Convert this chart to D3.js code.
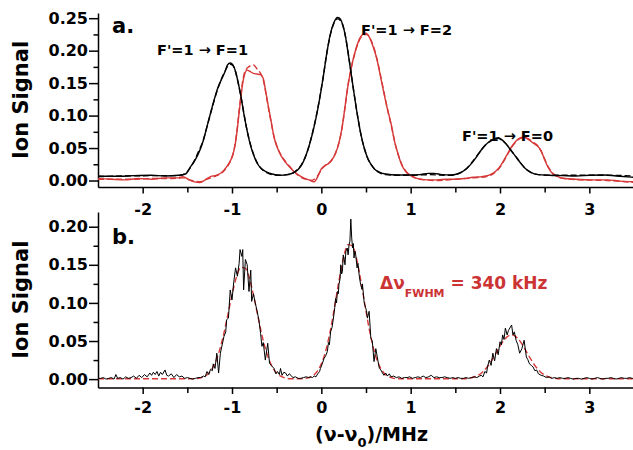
<!DOCTYPE html>
<html>
<head>
<meta charset="utf-8">
<title>Ion Signal spectra</title>
<style type="text/css">
	body {
		margin: 0;
		background: #fff;
	}

	svg {
		display: block;
	}

	.axis path, .axis line {
		stroke: #000;
		stroke-width: 1.5px;
	}

	.axis text {
		font: bold 16px "DejaVu Sans";
		fill: #000;
	}

	.lbl {
		font-family: "DejaVu Sans";
		font-weight: bold;
	}

	.curve {
		fill: none;
		stroke-width: 1.4px;
	}

	.curve.thin {
		stroke-width: 1px;
	}
</style>
<script src="https://d3js.org/d3.v7.min.js"></script>
</head>
<body>
<script type="text/javascript">
	// ---- data: [frequency offset (MHz), ion signal] ----
	var topBlack = [[-2.5,0.007],[-2.3,0.0065],[-2.1,0.0075],[-1.9,0.008],[-1.75,0.007],[-1.6,0.008],[-1.52,0.010],
		[-1.47,0.020],[-1.42,0.030],[-1.38,0.040],[-1.32,0.062],[-1.28,0.083],[-1.24,0.104],[-1.20,0.124],[-1.16,0.142],
		[-1.12,0.155],[-1.08,0.167],[-1.05,0.178],[-1.02,0.181],[-0.99,0.178],[-0.96,0.168],[-0.93,0.150],[-0.90,0.130],
		[-0.87,0.105],[-0.84,0.083],[-0.80,0.058],[-0.76,0.040],[-0.72,0.027],[-0.67,0.018],[-0.61,0.013],[-0.55,0.010],
		[-0.46,0.008],[-0.38,0.009],[-0.31,0.012],[-0.26,0.017],[-0.22,0.024],[-0.18,0.036],[-0.14,0.052],[-0.10,0.072],
		[-0.06,0.096],[-0.02,0.125],[0.02,0.158],[0.06,0.195],[0.10,0.225],[0.14,0.243],[0.18,0.251],[0.21,0.249],
		[0.24,0.240],[0.27,0.222],[0.30,0.196],[0.33,0.168],[0.36,0.140],[0.40,0.104],[0.44,0.073],[0.48,0.050],
		[0.52,0.034],[0.56,0.024],[0.60,0.017],[0.65,0.013],[0.72,0.010],[0.85,0.0085],[1.0,0.0085],[1.1,0.009],
		[1.2,0.011],[1.26,0.011],[1.35,0.009],[1.45,0.0085],[1.52,0.010],[1.57,0.013],[1.63,0.019],[1.68,0.026],
		[1.73,0.035],[1.79,0.047],[1.84,0.055],[1.90,0.062],[1.95,0.065],[1.98,0.066],[2.02,0.063],[2.07,0.056],
		[2.12,0.047],[2.17,0.038],[2.23,0.027],[2.28,0.019],[2.34,0.013],[2.43,0.009],[2.55,0.008],[2.7,0.0075],
		[2.85,0.007],[3.0,0.008],[3.17,0.0085],[3.3,0.007],[3.5,0.005]];

	var topBlackFit = [[-2.5,0.006],[-2.2,0.007],[-1.9,0.0075],[-1.6,0.0075],[-1.52,0.011],[-1.47,0.019],[-1.42,0.031],
		[-1.38,0.043],[-1.32,0.063],[-1.28,0.083],[-1.24,0.103],[-1.20,0.123],[-1.16,0.141],[-1.12,0.156],[-1.08,0.168],
		[-1.05,0.176],[-1.02,0.179],[-0.99,0.177],[-0.96,0.167],[-0.93,0.150],[-0.90,0.129],[-0.87,0.106],[-0.84,0.083],
		[-0.80,0.059],[-0.76,0.041],[-0.72,0.028],[-0.67,0.018],[-0.61,0.012],[-0.55,0.009],[-0.46,0.008],[-0.38,0.009],
		[-0.31,0.012],[-0.26,0.018],[-0.22,0.025],[-0.18,0.036],[-0.14,0.052],[-0.10,0.073],[-0.06,0.097],[-0.02,0.126],
		[0.02,0.159],[0.06,0.195],[0.10,0.224],[0.14,0.242],[0.18,0.249],[0.21,0.247],[0.24,0.239],[0.27,0.222],
		[0.30,0.197],[0.33,0.169],[0.36,0.140],[0.40,0.104],[0.44,0.073],[0.48,0.050],[0.52,0.034],[0.56,0.024],
		[0.60,0.017],[0.65,0.012],[0.72,0.009],[0.85,0.008],[1.0,0.008],[1.2,0.009],[1.45,0.008],[1.52,0.010],
		[1.57,0.013],[1.63,0.019],[1.68,0.027],[1.73,0.036],[1.79,0.047],[1.84,0.055],[1.90,0.061],[1.95,0.064],
		[1.98,0.065],[2.02,0.062],[2.07,0.056],[2.12,0.047],[2.17,0.038],[2.23,0.027],[2.28,0.019],[2.34,0.013],
		[2.43,0.009],[2.6,0.008],[2.9,0.008],[3.2,0.008],[3.5,0.007]];

	var topRed = [[-2.5,0.003],[-2.35,0.002],[-2.2,0.001],[-2.05,0.003],[-1.9,0.002],[-1.75,0.004],[-1.6,0.004],
		[-1.55,0.006],[-1.48,0.001],[-1.42,-0.002],[-1.36,-0.003],[-1.30,0.001],[-1.24,0.006],[-1.18,0.008],[-1.12,0.012],
		[-1.06,0.021],[-1.02,0.030],[-0.99,0.040],[-0.965,0.055],[-0.94,0.080],[-0.92,0.105],[-0.90,0.128],[-0.88,0.150],
		[-0.86,0.163],[-0.83,0.170],[-0.80,0.168],[-0.76,0.165],[-0.72,0.164],[-0.68,0.163],[-0.65,0.157],[-0.62,0.135],
		[-0.59,0.112],[-0.56,0.090],[-0.53,0.067],[-0.49,0.050],[-0.45,0.038],[-0.40,0.028],[-0.35,0.020],[-0.30,0.013],
		[-0.24,0.007],[-0.18,0.003],[-0.12,0.000],[-0.08,-0.002],[-0.04,0.006],[0.00,0.018],[0.04,0.023],[0.08,0.026],
		[0.12,0.032],[0.16,0.042],[0.20,0.060],[0.23,0.080],[0.26,0.108],[0.29,0.139],[0.32,0.163],[0.35,0.183],
		[0.39,0.204],[0.43,0.219],[0.47,0.226],[0.50,0.227],[0.54,0.220],[0.58,0.206],[0.62,0.188],[0.66,0.162],
		[0.70,0.135],[0.74,0.110],[0.78,0.088],[0.82,0.060],[0.86,0.040],[0.90,0.024],[0.95,0.013],[1.0,0.008],
		[1.08,0.003],[1.2,0.001],[1.3,0.001],[1.4,0.002],[1.5,0.002],[1.6,0.003],[1.7,0.005],[1.8,0.006],[1.87,0.008],
		[1.93,0.012],[1.98,0.018],[2.03,0.028],[2.08,0.040],[2.13,0.052],[2.18,0.061],[2.23,0.066],[2.27,0.067],
		[2.32,0.063],[2.37,0.058],[2.42,0.053],[2.46,0.046],[2.50,0.032],[2.54,0.020],[2.58,0.012],[2.63,0.007],
		[2.72,0.003],[2.85,0.002],[3.0,0.001],[3.2,0.001],[3.35,-0.001],[3.5,-0.002]];

	var topRedFit = [[-2.5,0.002],[-2.3,0.002],[-2.1,0.002],[-1.9,0.003],[-1.7,0.003],[-1.55,0.004],[-1.45,0.000],
		[-1.36,-0.002],[-1.28,0.002],[-1.2,0.006],[-1.12,0.011],[-1.06,0.020],[-1.02,0.029],[-0.99,0.040],[-0.965,0.056],
		[-0.94,0.082],[-0.92,0.108],[-0.90,0.132],[-0.88,0.153],[-0.86,0.166],[-0.83,0.173],[-0.79,0.177],[-0.76,0.178],
		[-0.72,0.172],[-0.68,0.165],[-0.65,0.155],[-0.62,0.134],[-0.59,0.110],[-0.56,0.088],[-0.53,0.068],[-0.49,0.050],
		[-0.45,0.039],[-0.40,0.029],[-0.35,0.021],[-0.30,0.013],[-0.24,0.006],[-0.18,0.002],[-0.12,0.000],[-0.06,0.004],
		[-0.02,0.012],[0.02,0.020],[0.06,0.025],[0.10,0.029],[0.14,0.037],[0.18,0.050],[0.21,0.065],[0.24,0.088],
		[0.27,0.118],[0.30,0.148],[0.33,0.170],[0.36,0.188],[0.40,0.207],[0.44,0.220],[0.48,0.225],[0.51,0.225],
		[0.55,0.218],[0.59,0.204],[0.63,0.183],[0.67,0.157],[0.71,0.130],[0.75,0.104],[0.79,0.080],[0.83,0.055],
		[0.87,0.036],[0.91,0.022],[0.96,0.012],[1.02,0.006],[1.1,0.002],[1.3,0.000],[1.5,0.002],[1.7,0.004],[1.85,0.006],
		[1.93,0.011],[1.98,0.017],[2.03,0.027],[2.08,0.039],[2.13,0.051],[2.18,0.060],[2.23,0.065],[2.27,0.066],
		[2.32,0.064],[2.37,0.059],[2.42,0.054],[2.46,0.045],[2.50,0.033],[2.54,0.021],[2.58,0.013],[2.63,0.007],
		[2.72,0.003],[2.9,0.001],[3.2,0.000],[3.5,-0.003]];

	var botData = [[-2.50,0.001],[-2.47,0.001],[-2.44,0.002],[-2.41,0.000],[-2.38,0.001],[-2.35,0.002],[-2.32,0.000],
		[-2.30,0.006],[-2.28,0.001],[-2.25,0.002],[-2.22,0.000],[-2.19,0.003],[-2.16,0.001],[-2.13,0.002],[-2.10,0.004],
		[-2.07,0.001],[-2.04,0.005],[-2.01,0.002],[-1.98,0.006],[-1.95,0.003],[-1.92,0.008],[-1.90,0.005],[-1.88,0.009],
		[-1.86,0.006],[-1.84,0.010],[-1.82,0.004],[-1.80,0.009],[-1.78,0.006],[-1.75,0.012],[-1.73,0.005],[-1.71,0.004],
		[-1.68,0.007],[-1.65,0.002],[-1.62,0.006],[-1.59,0.003],[-1.56,0.004],[-1.53,0.001],[-1.50,0.002],[-1.47,0.001],
		[-1.44,0.000],[-1.41,0.001],[-1.38,0.002],[-1.35,0.002],[-1.32,0.004],[-1.30,0.003],[-1.28,0.010],[-1.26,0.006],
		[-1.24,0.013],[-1.22,0.011],[-1.21,0.020],[-1.19,0.014],[-1.17,0.034],[-1.15,0.008],[-1.13,0.034],[-1.11,0.045],
		[-1.09,0.056],[-1.07,0.062],[-1.06,0.078],[-1.04,0.080],[-1.02,0.117],[-1.00,0.104],[-0.98,0.128],[-0.96,0.146],
		[-0.94,0.135],[-0.92,0.152],[-0.91,0.170],[-0.89,0.161],[-0.88,0.170],[-0.87,0.117],[-0.85,0.157],[-0.83,0.150],
		[-0.81,0.115],[-0.79,0.143],[-0.78,0.102],[-0.76,0.112],[-0.74,0.100],[-0.72,0.090],[-0.70,0.078],[-0.68,0.060],
		[-0.665,0.043],[-0.65,0.048],[-0.627,0.025],[-0.60,0.047],[-0.58,0.021],[-0.56,0.018],[-0.53,0.014],[-0.51,0.007],
		[-0.49,0.010],[-0.47,0.006],[-0.457,0.014],[-0.44,0.005],[-0.42,0.009],[-0.40,0.008],[-0.38,0.004],[-0.36,0.007],
		[-0.34,0.005],[-0.32,0.002],[-0.29,0.003],[-0.26,0.001],[-0.23,0.001],[-0.20,0.002],[-0.17,0.003],[-0.14,0.002],
		[-0.12,0.003],[-0.10,0.002],[-0.08,0.004],[-0.06,0.003],[-0.04,0.007],[-0.02,0.010],[-0.01,0.014],[0.01,0.020],
		[0.03,0.027],[0.05,0.031],[0.067,0.036],[0.08,0.048],[0.09,0.045],[0.104,0.062],[0.12,0.068],[0.14,0.084],
		[0.15,0.094],[0.16,0.106],[0.17,0.100],[0.18,0.115],[0.19,0.112],[0.197,0.124],[0.21,0.132],[0.217,0.150],
		[0.227,0.138],[0.236,0.141],[0.245,0.163],[0.254,0.159],[0.265,0.150],[0.275,0.168],[0.29,0.172],[0.30,0.163],
		[0.31,0.176],[0.32,0.181],[0.33,0.210],[0.34,0.185],[0.35,0.172],[0.358,0.178],[0.366,0.159],[0.375,0.168],
		[0.385,0.163],[0.40,0.146],[0.41,0.152],[0.425,0.135],[0.44,0.124],[0.455,0.118],[0.46,0.125],[0.48,0.100],
		[0.495,0.094],[0.505,0.090],[0.516,0.080],[0.535,0.089],[0.554,0.054],[0.57,0.050],[0.59,0.023],[0.61,0.040],
		[0.625,0.030],[0.64,0.020],[0.65,0.014],[0.666,0.012],[0.68,0.009],[0.70,0.005],[0.72,0.008],[0.74,0.004],
		[0.76,0.007],[0.78,0.003],[0.81,0.004],[0.84,0.002],[0.87,0.003],[0.90,0.001],[0.93,0.002],[0.96,0.002],
		[0.99,0.003],[1.02,0.001],[1.05,0.002],[1.08,0.003],[1.11,0.002],[1.14,0.004],[1.17,0.002],[1.20,0.003],
		[1.23,0.005],[1.26,0.002],[1.29,0.003],[1.32,0.002],[1.35,0.002],[1.38,0.003],[1.41,0.002],[1.44,0.001],
		[1.47,0.002],[1.50,0.001],[1.53,0.002],[1.56,0.001],[1.59,0.001],[1.62,0.002],[1.65,0.001],[1.68,0.002],
		[1.71,0.003],[1.74,0.002],[1.77,0.004],[1.79,0.005],[1.81,0.003],[1.83,0.010],[1.85,0.008],[1.86,0.016],
		[1.88,0.025],[1.90,0.018],[1.92,0.034],[1.94,0.024],[1.96,0.040],[1.98,0.032],[2.00,0.049],[2.015,0.045],
		[2.03,0.058],[2.045,0.052],[2.06,0.067],[2.08,0.058],[2.095,0.064],[2.11,0.067],[2.13,0.071],[2.145,0.058],
		[2.16,0.062],[2.18,0.051],[2.20,0.045],[2.22,0.034],[2.245,0.040],[2.27,0.051],[2.295,0.029],[2.31,0.026],
		[2.33,0.020],[2.35,0.018],[2.37,0.016],[2.39,0.011],[2.41,0.012],[2.43,0.007],[2.46,0.005],[2.49,0.004],
		[2.52,0.002],[2.55,0.003],[2.58,0.001],[2.61,0.002],[2.64,0.001],[2.67,0.002],[2.70,0.001],[2.73,0.001],
		[2.76,0.002],[2.79,0.001],[2.82,0.000],[2.85,0.001],[2.88,0.001],[2.91,0.000],[2.94,0.001],[2.97,0.002],
		[3.00,0.001],[3.03,0.000],[3.06,0.001],[3.09,0.002],[3.12,0.001],[3.15,0.000],[3.18,0.001],[3.21,0.001],
		[3.24,0.002],[3.27,0.001],[3.30,0.000],[3.33,0.001],[3.36,0.002],[3.39,0.001],[3.42,0.001],[3.45,0.002],
		[3.48,0.001],[3.50,0.001]];

	var botFit = [[-2.5,0.0005],[-2.0,0.0005],[-1.6,0.0005],[-1.45,0.0005],[-1.40,0.0006],[-1.35,0.0017],[-1.30,0.0041],
		[-1.25,0.0092],[-1.20,0.0185],[-1.15,0.0337],[-1.10,0.0555],[-1.05,0.0824],[-1.00,0.1105],[-0.95,0.134],
		[-0.90,0.1468],[-0.85,0.1453],[-0.80,0.130],[-0.75,0.105],[-0.70,0.0767],[-0.65,0.0506],[-0.60,0.0302],
		[-0.55,0.0163],[-0.50,0.0079],[-0.45,0.0035],[-0.40,0.0014],[-0.35,0.0005],[-0.25,0.0005],[-0.20,0.0006],
		[-0.15,0.0016],[-0.10,0.0041],[-0.05,0.0096],[0.00,0.0200],[0.05,0.0375],[0.10,0.0633],[0.15,0.0960],
		[0.20,0.1309],[0.25,0.1603],[0.30,0.1765],[0.35,0.1746],[0.40,0.1552],[0.45,0.1240],[0.50,0.0890],[0.55,0.0575],
		[0.60,0.0333],[0.65,0.0174],[0.70,0.0081],[0.75,0.0034],[0.80,0.0013],[0.85,0.0005],[1.0,0.0005],[1.3,0.0005],
		[1.55,0.0005],[1.60,0.0005],[1.65,0.0011],[1.70,0.0024],[1.75,0.0047],[1.80,0.0088],[1.85,0.0149],[1.90,0.0232],
		[1.95,0.0331],[2.00,0.0433],[2.05,0.0519],[2.10,0.0571],[2.15,0.0576],[2.20,0.0533],[2.25,0.0452],[2.30,0.0352],
		[2.35,0.0251],[2.40,0.0164],[2.45,0.0098],[2.50,0.0054],[2.55,0.0027],[2.60,0.0013],[2.65,0.0005],[3.0,0.0004],
		[3.5,0.0004]];

	var xTicks = [-2, -1, 0, 1, 2, 3],
		xMinor = [-1.5, -0.5, 0.5, 1.5, 2.5],
		topYTicks = [0, 0.05, 0.10, 0.15, 0.20, 0.25],
		topYMinor = [0.025, 0.075, 0.125, 0.175, 0.225],
		botYTicks = [0, 0.05, 0.10, 0.15, 0.20],
		botYMinor = [0.025, 0.075, 0.125, 0.175];

	var black = "#000",
		red = "#d63838",
		redText = "#cc3333";

	// ---- layout ----
	var svg = d3.select("body").append("svg")
		.attr("width", 633)
		.attr("height", 450);

	var x = d3.scaleLinear().domain([-2.5, 3.5]).range([98, 634]);

	var yTop = d3.scaleLinear().domain([-0.01, 0.258]).range([187, 13]),
		yBot = d3.scaleLinear().domain([-0.011, 0.2193]).range([387.5, 212]);

	function panel(id, y, yTicks, yMinor, labelPad) {
		var g = svg.append("g");
		var r = y.range();

		g.append("clipPath").attr("id", id)
			.append("rect")
			.attr("x", x.range()[0]).attr("y", r[1])
			.attr("width", x.range()[1] - x.range()[0]).attr("height", r[0] - r[1]);

		g.append("g").attr("class", "axis")
			.attr("transform", "translate(0," + r[0] + ")")
			.call(d3.axisBottom(x).tickValues(xTicks).tickSizeInner(6.5).tickSizeOuter(0)
				.tickPadding(labelPad).tickFormat(function(d) { return String(d); }));

		g.append("g").attr("class", "axis minor")
			.attr("transform", "translate(0," + r[0] + ")")
			.call(d3.axisBottom(x).tickValues(xMinor).tickSize(5.5).tickFormat(""))
			.select(".domain").remove();

		g.append("g").attr("class", "axis")
			.attr("transform", "translate(" + x.range()[0] + ",0)")
			.call(d3.axisLeft(y).tickValues(yTicks).tickSizeInner(9).tickSizeOuter(0)
				.tickPadding(1).tickFormat(d3.format(".2f")));

		g.append("g").attr("class", "axis minor")
			.attr("transform", "translate(" + x.range()[0] + ",0)")
			.call(d3.axisLeft(y).tickValues(yMinor).tickSize(4.5).tickFormat(""))
			.select(".domain").remove();

		g.append("text")
			.attr("class", "lbl")
			.attr("transform", "translate(28," + (r[0] + r[1]) / 2 + ") rotate(-90)")
			.attr("text-anchor", "middle")
			.style("font-size", "21px")
			.text("Ion Signal");

		return g;
	}

	function curve(g, clip, y, data, color, dashed, smooth, thin) {
		var line = d3.line()
			.x(function(d) { return x(d[0]); })
			.y(function(d) { return y(d[1]); })
			.curve(smooth ? d3.curveMonotoneX : d3.curveLinear);

		g.append("path")
			.datum(data)
			.attr("class", thin ? "curve thin" : "curve")
			.attr("clip-path", "url(#" + clip + ")")
			.attr("stroke", color)
			.attr("stroke-dasharray", dashed ? "6,3" : null)
			.attr("d", line);
	}

	// ---- panel a ----
	var ga = panel("clipA", yTop, topYTicks, topYMinor, 10.1);
	curve(ga, "clipA", yTop, topRedFit, red, true, true);
	curve(ga, "clipA", yTop, topRed, red, false, true);
	curve(ga, "clipA", yTop, topBlackFit, black, true, true);
	curve(ga, "clipA", yTop, topBlack, black, false, true);

	ga.append("text").attr("class", "lbl").attr("x", 112).attr("y", 32.5)
		.style("font-size", "21px").text("a.");

	var notes = [
		{t: "F'=1 \u2192 F=1", x: 157, y: 54.5},
		{t: "F'=1 \u2192 F=2", x: 361, y: 35},
		{t: "F'=1 \u2192 F=0", x: 462, y: 140.5}
	];
	ga.selectAll(".note").data(notes).enter().append("text")
		.attr("class", "lbl note")
		.attr("x", function(d) { return d.x; })
		.attr("y", function(d) { return d.y; })
		.style("font-size", "14.5px")
		.text(function(d) { return d.t; });

	// ---- panel b ----
	var gb = panel("clipB", yBot, botYTicks, botYMinor, 7.3);
	curve(gb, "clipB", yBot, botFit, red, true, true);
	curve(gb, "clipB", yBot, botData, black, false, false, true);

	gb.append("text").attr("class", "lbl").attr("x", 112).attr("y", 243.5)
		.style("font-size", "21px").text("b.");

	var fw = gb.append("text").attr("class", "lbl")
		.attr("x", 380).attr("y", 288.5)
		.style("font-size", "17px")
		.attr("fill", redText);
	fw.append("tspan").text("\u0394\u03bd");
	fw.append("tspan").attr("dy", 8).style("font-size", "11px").text("FWHM");
	fw.append("tspan").attr("dy", -8).text(" = 340 kHz");

	var xt = svg.append("text").attr("class", "lbl")
		.attr("x", 371.5).attr("y", 441)
		.attr("text-anchor", "middle")
		.style("font-size", "19px");
	xt.append("tspan").text("(\u03bd-\u03bd");
	xt.append("tspan").attr("dy", 6).style("font-size", "13px").text("0");
	xt.append("tspan").attr("dy", -6).text(")/MHz");
</script>
</body>
</html>
